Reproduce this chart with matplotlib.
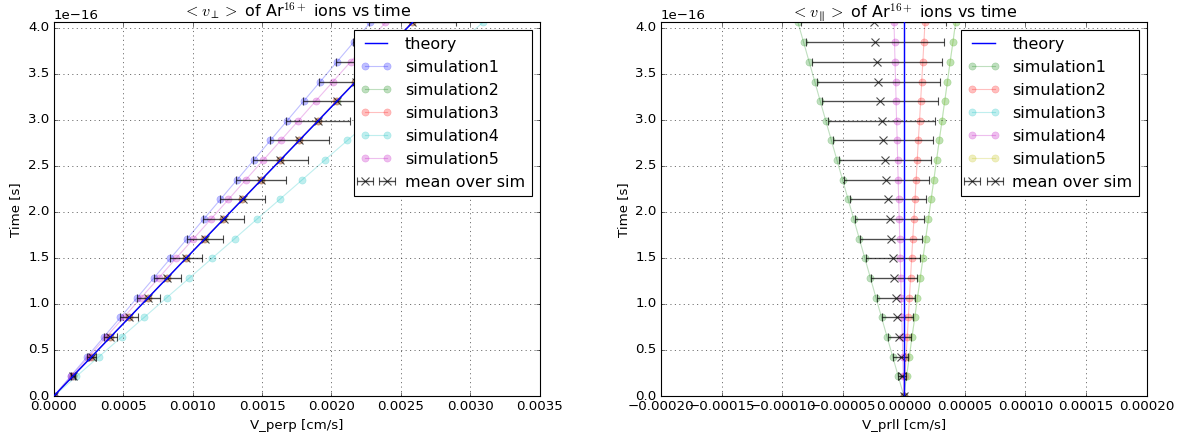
import numpy as np
import matplotlib
matplotlib.use('Agg')
import matplotlib.pyplot as plt

plt.style.use('classic')

# time axis [s]
time = np.array([0.0, 0.214, 0.427, 0.641, 0.854, 1.068, 1.281, 1.495, 1.708, 1.922,
                 2.135, 2.349, 2.562, 2.776, 2.989, 3.203, 3.416, 3.630, 3.843, 4.057]) * 1e-16

# <v_perp> [cm/s], in units of 1e-4
perp_theory = np.array([0, 1.36, 2.72, 4.08, 5.44, 6.80, 8.16, 9.52, 10.88, 12.24,
                        13.60, 14.96, 16.32, 17.68, 19.04, 20.40, 21.76, 23.12, 24.48, 25.84]) * 1e-4
perp_sim1 = np.array([0, 1.20, 2.40, 3.60, 4.80, 6.00, 7.20, 8.40, 9.60, 10.80,
                      12.00, 13.20, 14.40, 15.60, 16.80, 18.00, 19.20, 20.40, 21.60, 22.80]) * 1e-4
perp_sim2 = np.array([0, 1.36, 2.72, 4.07, 5.43, 6.79, 8.15, 9.51, 10.86, 12.22,
                      13.58, 14.94, 16.30, 17.65, 19.01, 20.37, 21.73, 23.08, 24.44, 25.80]) * 1e-4
perp_sim3 = np.array([0, 1.35, 2.71, 4.07, 5.42, 6.78, 8.14, 9.50, 10.85, 12.21,
                      13.57, 14.93, 16.29, 17.64, 19.00, 20.36, 21.72, 23.07, 24.43, 25.79]) * 1e-4
perp_sim4 = np.array([0, 1.63, 3.25, 4.88, 6.51, 8.13, 9.76, 11.39, 13.02, 14.64,
                      16.27, 17.90, 19.52, 21.15, 22.78, 24.40, 26.03, 27.66, 29.28, 30.91]) * 1e-4
perp_sim5 = np.array([0, 1.26, 2.52, 3.77, 5.03, 6.29, 7.55, 8.80, 10.06, 11.32,
                      12.58, 13.83, 15.09, 16.35, 17.61, 18.86, 20.12, 21.38, 22.64, 23.89]) * 1e-4
perp_mean = np.array([0, 1.36, 2.72, 4.08, 5.44, 6.80, 8.16, 9.52, 10.88, 12.24,
                      13.60, 14.96, 16.32, 17.68, 19.04, 20.40, 21.76, 23.12, 24.48, 25.84]) * 1e-4
perp_err = np.array([0, 0.16, 0.33, 0.49, 0.65, 0.82, 0.98, 1.15, 1.31, 1.47,
                     1.64, 1.80, 1.96, 2.13, 2.29, 2.45, 2.62, 2.78, 2.94, 3.11]) * 1e-4

# <v_prll> [cm/s], in units of 1e-5
prll_theory = np.zeros(20)
prll_sim1 = np.array([0, -0.46, -0.92, -1.38, -1.84, -2.30, -2.75, -3.21, -3.67, -4.13,
                      -4.59, -5.05, -5.51, -5.97, -6.43, -6.89, -7.34, -7.80, -8.26, -8.72]) * 1e-5
prll_sim2 = np.array([0, 0.09, 0.18, 0.28, 0.37, 0.46, 0.55, 0.64, 0.73, 0.83,
                      0.92, 1.01, 1.10, 1.19, 1.29, 1.38, 1.47, 1.56, 1.65, 1.74]) * 1e-5
prll_sim3 = np.array([0, 0.22, 0.45, 0.67, 0.90, 1.12, 1.35, 1.57, 1.79, 2.02,
                      2.24, 2.47, 2.69, 2.91, 3.14, 3.36, 3.59, 3.81, 4.04, 4.26]) * 1e-5
prll_sim4 = np.array([0, -0.04, -0.09, -0.13, -0.17, -0.21, -0.26, -0.30, -0.34, -0.38,
                      -0.43, -0.47, -0.51, -0.55, -0.60, -0.64, -0.68, -0.73, -0.77, -0.81]) * 1e-5
prll_sim5 = np.array([0, 0.22, 0.45, 0.67, 0.90, 1.12, 1.35, 1.57, 1.80, 2.02,
                      2.25, 2.47, 2.69, 2.92, 3.14, 3.37, 3.59, 3.81, 4.04, 4.26]) * 1e-5
prll_mean = np.array([0, -0.13, -0.26, -0.39, -0.53, -0.66, -0.79, -0.92, -1.05, -1.18,
                      -1.31, -1.44, -1.58, -1.71, -1.84, -1.97, -2.10, -2.23, -2.36, -2.49]) * 1e-5
prll_err = np.array([0, 0.32, 0.63, 0.95, 1.26, 1.58, 1.90, 2.21, 2.53, 2.84,
                     3.16, 3.48, 3.79, 4.11, 4.42, 4.74, 5.06, 5.37, 5.69, 6.00]) * 1e-5


def draw(ax, theory, sims, mean, err, colors, title, xlabel, xlim):
    ax.plot(theory, time, color='b', lw=1.3, label='theory', zorder=4)
    for i, (sim, c) in enumerate(zip(sims, colors)):
        ax.plot(sim, time, 'o-', color=c, mec=c, alpha=0.25, ms=6.5,
                label='simulation%d' % (i + 1))
    ax.errorbar(mean, time, xerr=err, fmt='x', color='k', ecolor='k',
                alpha=0.7, ms=7, mew=1, capsize=3.5, elinewidth=1.2,
                label='mean over sim', zorder=3)
    ax.set_xlim(xlim)
    ax.set_ylim(0, time.max())
    ax.set_title(title)
    ax.set_xlabel(xlabel)
    ax.set_ylabel('Time [s]')
    ax.grid(True)
    ax.legend(loc='upper right')


fig, (ax1, ax2) = plt.subplots(1, 2, figsize=(1197 / 80, 441 / 80), dpi=80)
fig.subplots_adjust(left=0.045, right=0.958, bottom=0.102, top=0.949, wspace=0.25)

draw(ax1, perp_theory, [perp_sim1, perp_sim2, perp_sim3, perp_sim4, perp_sim5],
     perp_mean, perp_err, ['b', 'g', 'r', 'c', 'm'],
     r'$<v_{\perp}>$ of Ar$^{16+}$ ions vs time', 'V_perp [cm/s]', (0, 0.0035))
draw(ax2, prll_theory, [prll_sim1, prll_sim2, prll_sim3, prll_sim4, prll_sim5],
     prll_mean, prll_err, ['g', 'r', 'c', 'm', 'y'],
     r'$<v_{\parallel}>$ of Ar$^{16+}$ ions vs time', 'V_prll [cm/s]', (-0.0002, 0.0002))

fig.savefig('out.png', dpi=80, facecolor='white')
